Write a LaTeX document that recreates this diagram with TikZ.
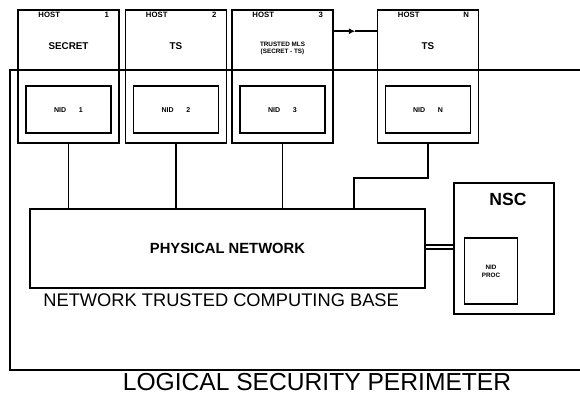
\documentclass[tikz,border=0pt]{standalone}
\usepackage{fontspec}
\setmainfont{Liberation Sans}
\usetikzlibrary{arrows.meta,positioning,calc}
\tikzset{
  hostbox/.style={draw,line width=1.1pt,minimum width=2.525cm,minimum height=3.325cm,inner sep=0pt},
  nidbox/.style={draw,line width=1.3pt,minimum width=2.125cm,minimum height=1.175cm,inner sep=0pt,
    font=\fontsize{5}{6}\selectfont\bfseries},
  hostname/.style={inner sep=0pt,font=\fontsize{5.5}{6}\selectfont\bfseries},
  level/.style={inner sep=0pt,align=center,font=\fontsize{7}{8}\selectfont\bfseries},
  netbox/.style={draw,line width=1.2pt,minimum width=9.875cm,minimum height=1.975cm,inner sep=0pt,
    font=\fontsize{10.5}{12}\selectfont\bfseries},
  nscbox/.style={draw,line width=1.2pt,minimum width=2.5cm,minimum height=3.275cm,inner sep=0pt},
  procbox/.style={draw,line width=1.2pt,minimum width=1.325cm,minimum height=1.65cm,inner sep=0pt,
    align=center,font=\fontsize{4.5}{5.5}\selectfont\bfseries},
  bigtext/.style={inner sep=0pt,font=\fontsize{13}{15}\selectfont},
  hugetext/.style={inner sep=0pt,font=\fontsize{17.5}{20}\selectfont},
  link/.style={line width=1.2pt},
  dlink/.style={double,double distance=2.1pt,line width=.8pt}
}

\begin{document}
\begin{tikzpicture}[x=0.025cm,y=-0.025cm]
  \useasboundingbox (0,0) rectangle (580,397);
  % logical security perimeter
  \draw[link] (580,70) -- (10,70) -- (10,370) -- (580,370);
  \node[hugetext] (lsp) at (317,382.5) {LOGICAL SECURITY PERIMETER};

  % hosts
  \node[hostbox] (host1) at (68.5,76.5) {};
  \node[hostbox] (host2) at (176,76.5) {};
  \node[hostbox] (host3) at (282.5,76.5) {};
  \node[hostbox] (hostN) at (428,76.5) {};

  \node[hostname,anchor=west] (host1t) at ($(host1.north west)+(21,6)$) {HOST};
  \node[hostname] (host1n) at ($(host1.north east)+(-13,6)$) {1};
  \node[level] (host1l) at ($(host1.north)+(0,37)$) {SECRET};
  \node[nidbox] (nid1) at ($(host1.north)+(0,100.5)$) {NID\hspace{9pt}1};

  \node[hostname,anchor=west] (host2t) at ($(host2.north west)+(21,6)$) {HOST};
  \node[hostname] (host2n) at ($(host2.north east)+(-13,6)$) {2};
  \node[level] (host2l) at ($(host2.north)+(0,37)$) {TS};
  \node[nidbox] (nid2) at ($(host2.north)+(0,100.5)$) {NID\hspace{9pt}2};

  \node[hostname,anchor=west] (host3t) at ($(host3.north west)+(21,6)$) {HOST};
  \node[hostname] (host3n) at ($(host3.north east)+(-13,6)$) {3};
  \node[level,font=\fontsize{4.5}{5}\selectfont\bfseries] (host3l) at ($(host3.north)+(0,39)$)
    {TRUSTED MLS\\(SECRET - TS)};
  \node[nidbox] (nid3) at ($(host3.north)+(0,100.5)$) {NID\hspace{9pt}3};

  \node[hostname,anchor=west] (hostNt) at ($(hostN.north west)+(21,6)$) {HOST};
  \node[hostname] (hostNn) at ($(hostN.north east)+(-13,6)$) {N};
  \node[level] (hostNl) at ($(hostN.north)+(0,37)$) {TS};
  \node[nidbox] (nidN) at ($(hostN.north)+(0,100.5)$) {NID\hspace{9pt}N};

  % host 3 to host N
  \coordinate (a3) at ($(host3.north east)+(0,22)$);
  \coordinate (aN) at (hostN.west |- a3);
  \coordinate (amid) at ($(a3)!.5!(aN)$);
  \draw[link,-{Latex[length=1.6mm,width=1.5mm]}] (a3) -- (amid);
  \draw[link] (amid) -- (aN);

  % physical network and NTCB
  \node[netbox] (net) at (227.5,248.5) {PHYSICAL NETWORK};
  \node[bigtext,anchor=north west] (ntcb) at ($(net.south west)+(14,5)$) {NETWORK TRUSTED COMPUTING BASE};

  \draw[link] (host1.south) -- (host1.south |- net.north);
  \draw[link] (host2.south) -- (host2.south |- net.north);
  \draw[link] (host3.south) -- (host3.south |- net.north);
  \coordinate (tap) at ($(net.north east)+(-72,0)$);
  \draw[link] (hostN.south) -- ++(0,34) -| (tap);

  % network security center
  \node[nscbox] (nsc) at (504,248.5) {};
  \node[inner sep=0pt,font=\fontsize{12.5}{14}\selectfont\bfseries] (nsct) at ($(nsc.north)+(4,17)$) {NSC};
  \node[procbox] (nidp) at (491,271) {NID\\PROC};
  \draw[dlink] ($(net.east)+(0,-1.5)$) -- ($(nsc.west)+(0,-1.5)$);
\end{tikzpicture}
\end{document}
